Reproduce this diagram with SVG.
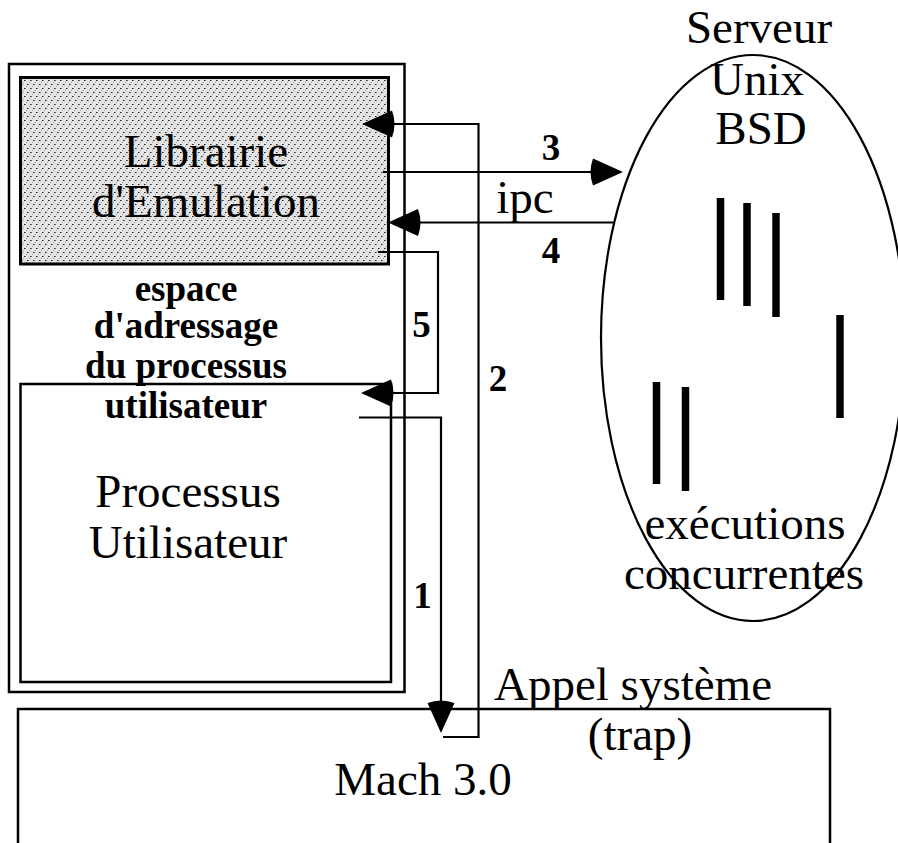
<svg xmlns="http://www.w3.org/2000/svg" width="898" height="843" viewBox="0 0 898 843">
<style>
.t{font-family:"Liberation Serif","Times New Roman",serif;font-size:47px;fill:#000;text-anchor:middle}
.b{font-family:"Liberation Serif","Times New Roman",serif;font-size:37px;font-weight:bold;fill:#000;text-anchor:middle}
.box{fill:none;stroke:#000;stroke-width:2.5}
.c{fill:none;stroke:#000;stroke-width:2.2;marker-end:url(#ah)}
.cn{fill:none;stroke:#000;stroke-width:2.2}
.bar{stroke:#000;stroke-width:7.5}
</style>
<defs>
<pattern id="dots" width="6" height="8" patternUnits="userSpaceOnUse">
<rect width="6" height="8" fill="#e4e4e4"/>
<rect x="0" y="0" width="1" height="1" fill="#222"/>
<rect x="1" y="0" width="1" height="1" fill="#777"/>
<rect x="3" y="4" width="1" height="1" fill="#222"/>
<rect x="4" y="4" width="1" height="1" fill="#777"/>
<rect x="5" y="2" width="1" height="1" fill="#999"/>
<rect x="2" y="6" width="1" height="1" fill="#999"/>
</pattern>
<marker id="ah" viewBox="-25 -15 37 30" refX="0" refY="0" markerWidth="37" markerHeight="30" markerUnits="userSpaceOnUse" orient="auto" overflow="visible">
<path d="M10,0 L-20,-13.5 Q-25,0 -20,13.5 Z" fill="#000"/>
</marker>
</defs>

<g id="outer">
<rect class="box" x="9" y="64" width="395.5" height="628" stroke-width="2.2"/>
</g>
<g id="librairie">
<rect x="20.5" y="77.5" width="368" height="186.5" fill="url(#dots)" stroke="#000" stroke-width="3"/>
<text class="t" x="206" y="167">Librairie</text>
<text class="t" x="206" y="217">d'Emulation</text>
</g>
<g id="espace">
<text class="b" x="186" y="301">espace</text>
<text class="b" x="186" y="338">d'adressage</text>
<text class="b" x="186" y="378">du processus</text>
<text class="b" x="186" y="418">utilisateur</text>
</g>
<g id="processus">
<rect class="box" x="20.5" y="384" width="370.5" height="298"/>
<text class="t" x="188" y="507">Processus</text>
<text class="t" x="188" y="558">Utilisateur</text>
</g>
<g id="mach">
<path class="box" d="M18,845 L18,709 L830,709 L830,845"/>
<text class="t" x="423" y="795">Mach 3.0</text>
</g>
<g id="serveur">
<ellipse cx="753" cy="338" rx="152" ry="283" fill="none" stroke="#000" stroke-width="2.2"/>
<text class="t" x="759" y="43">Serveur</text>
<text class="t" x="757" y="95">Unix</text>
<text class="t" x="761" y="144">BSD</text>
<line class="bar" x1="720.5" y1="198" x2="720.5" y2="300"/>
<line class="bar" x1="747" y1="203" x2="747" y2="306"/>
<line class="bar" x1="776" y1="213" x2="776" y2="317"/>
<line class="bar" x1="840" y1="315" x2="840" y2="418"/>
<line class="bar" x1="656.5" y1="382" x2="656.5" y2="484"/>
<line class="bar" x1="685.5" y1="387" x2="685.5" y2="491"/>
<text class="t" x="745" y="539">exécutions</text>
<text class="t" x="744" y="589">concurrentes</text>
</g>
<g id="connectors">
<polyline class="c" points="443,737 478.5,737 478.5,124 372,124"/>
<polyline class="c" points="383,172 613,172"/>
<polyline class="c" points="613,222.5 398,222.5"/>
<polyline class="c" points="378,252 438,252 438,393 371,393"/>
<polyline class="c" points="359,417.5 441,417.5 441,723"/>
</g>
<g id="labels">
<text class="b" x="551" y="160">3</text>
<text class="t" x="525" y="213">ipc</text>
<text class="b" x="551" y="263">4</text>
<text class="b" x="421.5" y="337">5</text>
<text class="b" x="498" y="391">2</text>
<text class="b" x="422.5" y="608">1</text>
<text class="t" x="633" y="700">Appel système</text>
<text class="t" x="640" y="750">(trap)</text>
</g>
</svg>
